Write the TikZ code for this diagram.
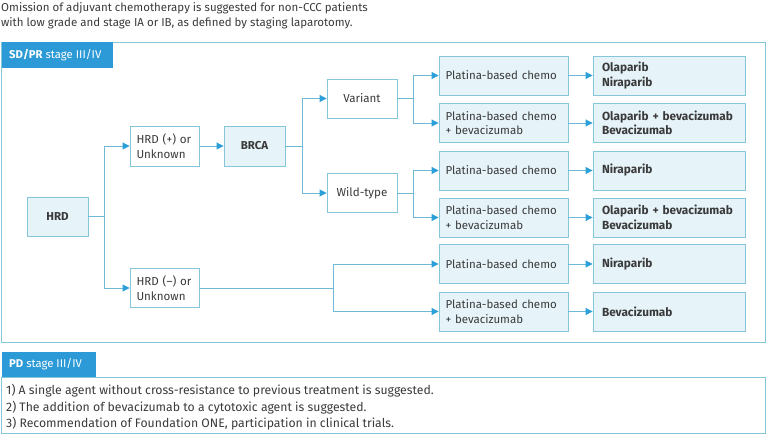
\documentclass[tikz,border=0pt]{standalone}
\usepackage{fontspec}
\setmainfont{Fira Sans}
\usetikzlibrary{arrows.meta}
\definecolor{framec}{HTML}{86C6DA}
\definecolor{labc}{HTML}{2C9AD6}
\definecolor{arrc}{HTML}{2B9FD8}
\definecolor{litec}{HTML}{E6F4FA}
\definecolor{linec}{HTML}{6DBAD6}
\definecolor{txtc}{HTML}{3A3A3A}
\begin{document}
\begin{tikzpicture}[x=1pt,y=-1pt,
  font=\fontsize{11.6}{14.5}\selectfont,
  box/.style={draw=framec, line width=0.9pt, inner sep=0pt, text=txtc, minimum height=39pt},
  lbox/.style={box, fill=litec},
  wbox/.style={box, fill=white},
  conn/.style={draw=linec, line width=0.9pt},
  arr/.style={conn, -{Triangle[length=7pt,width=7pt,color=arrc]}},
  platina/.style={lbox, text width=116pt, inner xsep=6.5pt, align=left, minimum width=129pt, font=\fontsize{11.5}{14.5}\selectfont},
  result/.style={lbox, text width=134pt, inner xsep=9pt, align=left, minimum width=152pt, font=\fontsize{11.8}{14.5}\selectfont\bfseries}
]
\useasboundingbox (0,0) rectangle (767,435);
% title
\node[anchor=north west, inner sep=0pt, align=left, text=txtc, font=\fontsize{11.5}{15}\selectfont] (title) at (1,2.5)
 {Omission of adjuvant chemotherapy is suggested for non-CCC patients\\with low grade and stage IA or IB, as defined by staging laparotomy.};
% main frame
\draw[framec, line width=1pt] (1.5,43) rectangle (765.5,342.5);
\fill[labc] (1.5,42.5) rectangle (113,68);
\node[anchor=west, inner sep=0pt, text=white, font=\fontsize{11.3}{13}\selectfont] (sdpr) at (9,55.5) {\textbf{SD/PR} stage III/IV};
% PD
\fill[labc] (1.5,352) rectangle (96,377);
\node[anchor=west, inner sep=0pt, text=white, font=\fontsize{11.3}{13}\selectfont] (pd) at (9,364.5) {\textbf{PD} stage III/IV};
\draw[framec, line width=1pt] (1.5,377) rectangle (765.5,433.5);
\node[anchor=north west, inner sep=0pt, align=left, text=txtc, font=\fontsize{12.25}{16.5}\selectfont] (pdtext) at (6,384)
 {1) A single agent without cross-resistance to previous treatment is suggested.\\
  2) The addition of bevacizumab to a cytotoxic agent is suggested.\\
  3) Recommendation of Foundation ONE, participation in clinical trials.};
% nodes
\node[lbox, minimum width=61pt, minimum height=39pt, font=\fontsize{11.5}{14.5}\selectfont\bfseries] (hrd) at (57.5,216.5) {HRD};
\node[wbox, minimum width=69pt, minimum height=40pt, text width=56pt, inner xsep=6.5pt, align=left] (hrdp) at (164.5,146) {HRD (+) or\\Unknown};
\node[wbox, minimum width=69pt, minimum height=39pt, text width=56pt, inner xsep=6.5pt, align=left] (hrdm) at (164.5,288) {HRD (--) or\\Unknown};
\node[lbox, minimum width=61pt, minimum height=40pt, font=\fontsize{11.5}{14.5}\selectfont\bfseries] (brca) at (254.5,146) {BRCA};
\node[wbox, minimum width=70pt] (var) at (362,98.5) {Variant};
\node[wbox, minimum width=70pt] (wild) at (362,193) {Wild-type};
\node[platina] (p1) at (503.5,75.5) {Platina-based chemo};
\node[platina] (p2) at (503.5,123) {Platina-based chemo\\+ bevacizumab};
\node[platina] (p3) at (503.5,170.5) {Platina-based chemo};
\node[platina] (p4) at (503.5,217.5) {Platina-based chemo\\+ bevacizumab};
\node[platina] (p5) at (503.5,264) {Platina-based chemo};
\node[platina] (p6) at (503.5,311.5) {Platina-based chemo\\+ bevacizumab};
\node[result] (r1) at (669,75.5) {Olaparib\\Niraparib};
\node[result] (r2) at (669,123) {Olaparib + bevacizumab\\Bevacizumab};
\node[result] (r3) at (669,170.5) {Niraparib};
\node[result] (r4) at (669,217.5) {Olaparib + bevacizumab\\Bevacizumab};
\node[result] (r5) at (669,264) {Niraparib};
\node[result] (r6) at (669,311.5) {Bevacizumab};
% connectors
\draw[conn] (hrd.east) -- (104,216.5) coordinate (j1);
\draw[arr] (j1) |- (hrdp.west);
\draw[arr] (j1) |- (hrdm.west);
\draw[arr] (hrdp) -- (brca);
\draw[conn] (brca.east) -- (302,146) coordinate (j2);
\draw[arr] (j2) |- (var.west);
\draw[arr] (j2) |- (wild.west);
\draw[conn] (var.east) -- (413,98.5) coordinate (j3);
\draw[arr] (j3) |- (p1.west);
\draw[arr] (j3) |- (p2.west);
\draw[conn] (wild.east) -- (413,193) coordinate (j4);
\draw[arr] (j4) |- (p3.west);
\draw[arr] (j4) |- (p4.west);
\draw[conn] (hrdm.east) -- (333,288) coordinate (j5);
\draw[arr] (j5) |- (p5.west);
\draw[arr] (j5) |- (p6.west);
\foreach \i in {1,...,6} { \draw[arr] (p\i) -- (r\i); }
\end{tikzpicture}
\end{document}
